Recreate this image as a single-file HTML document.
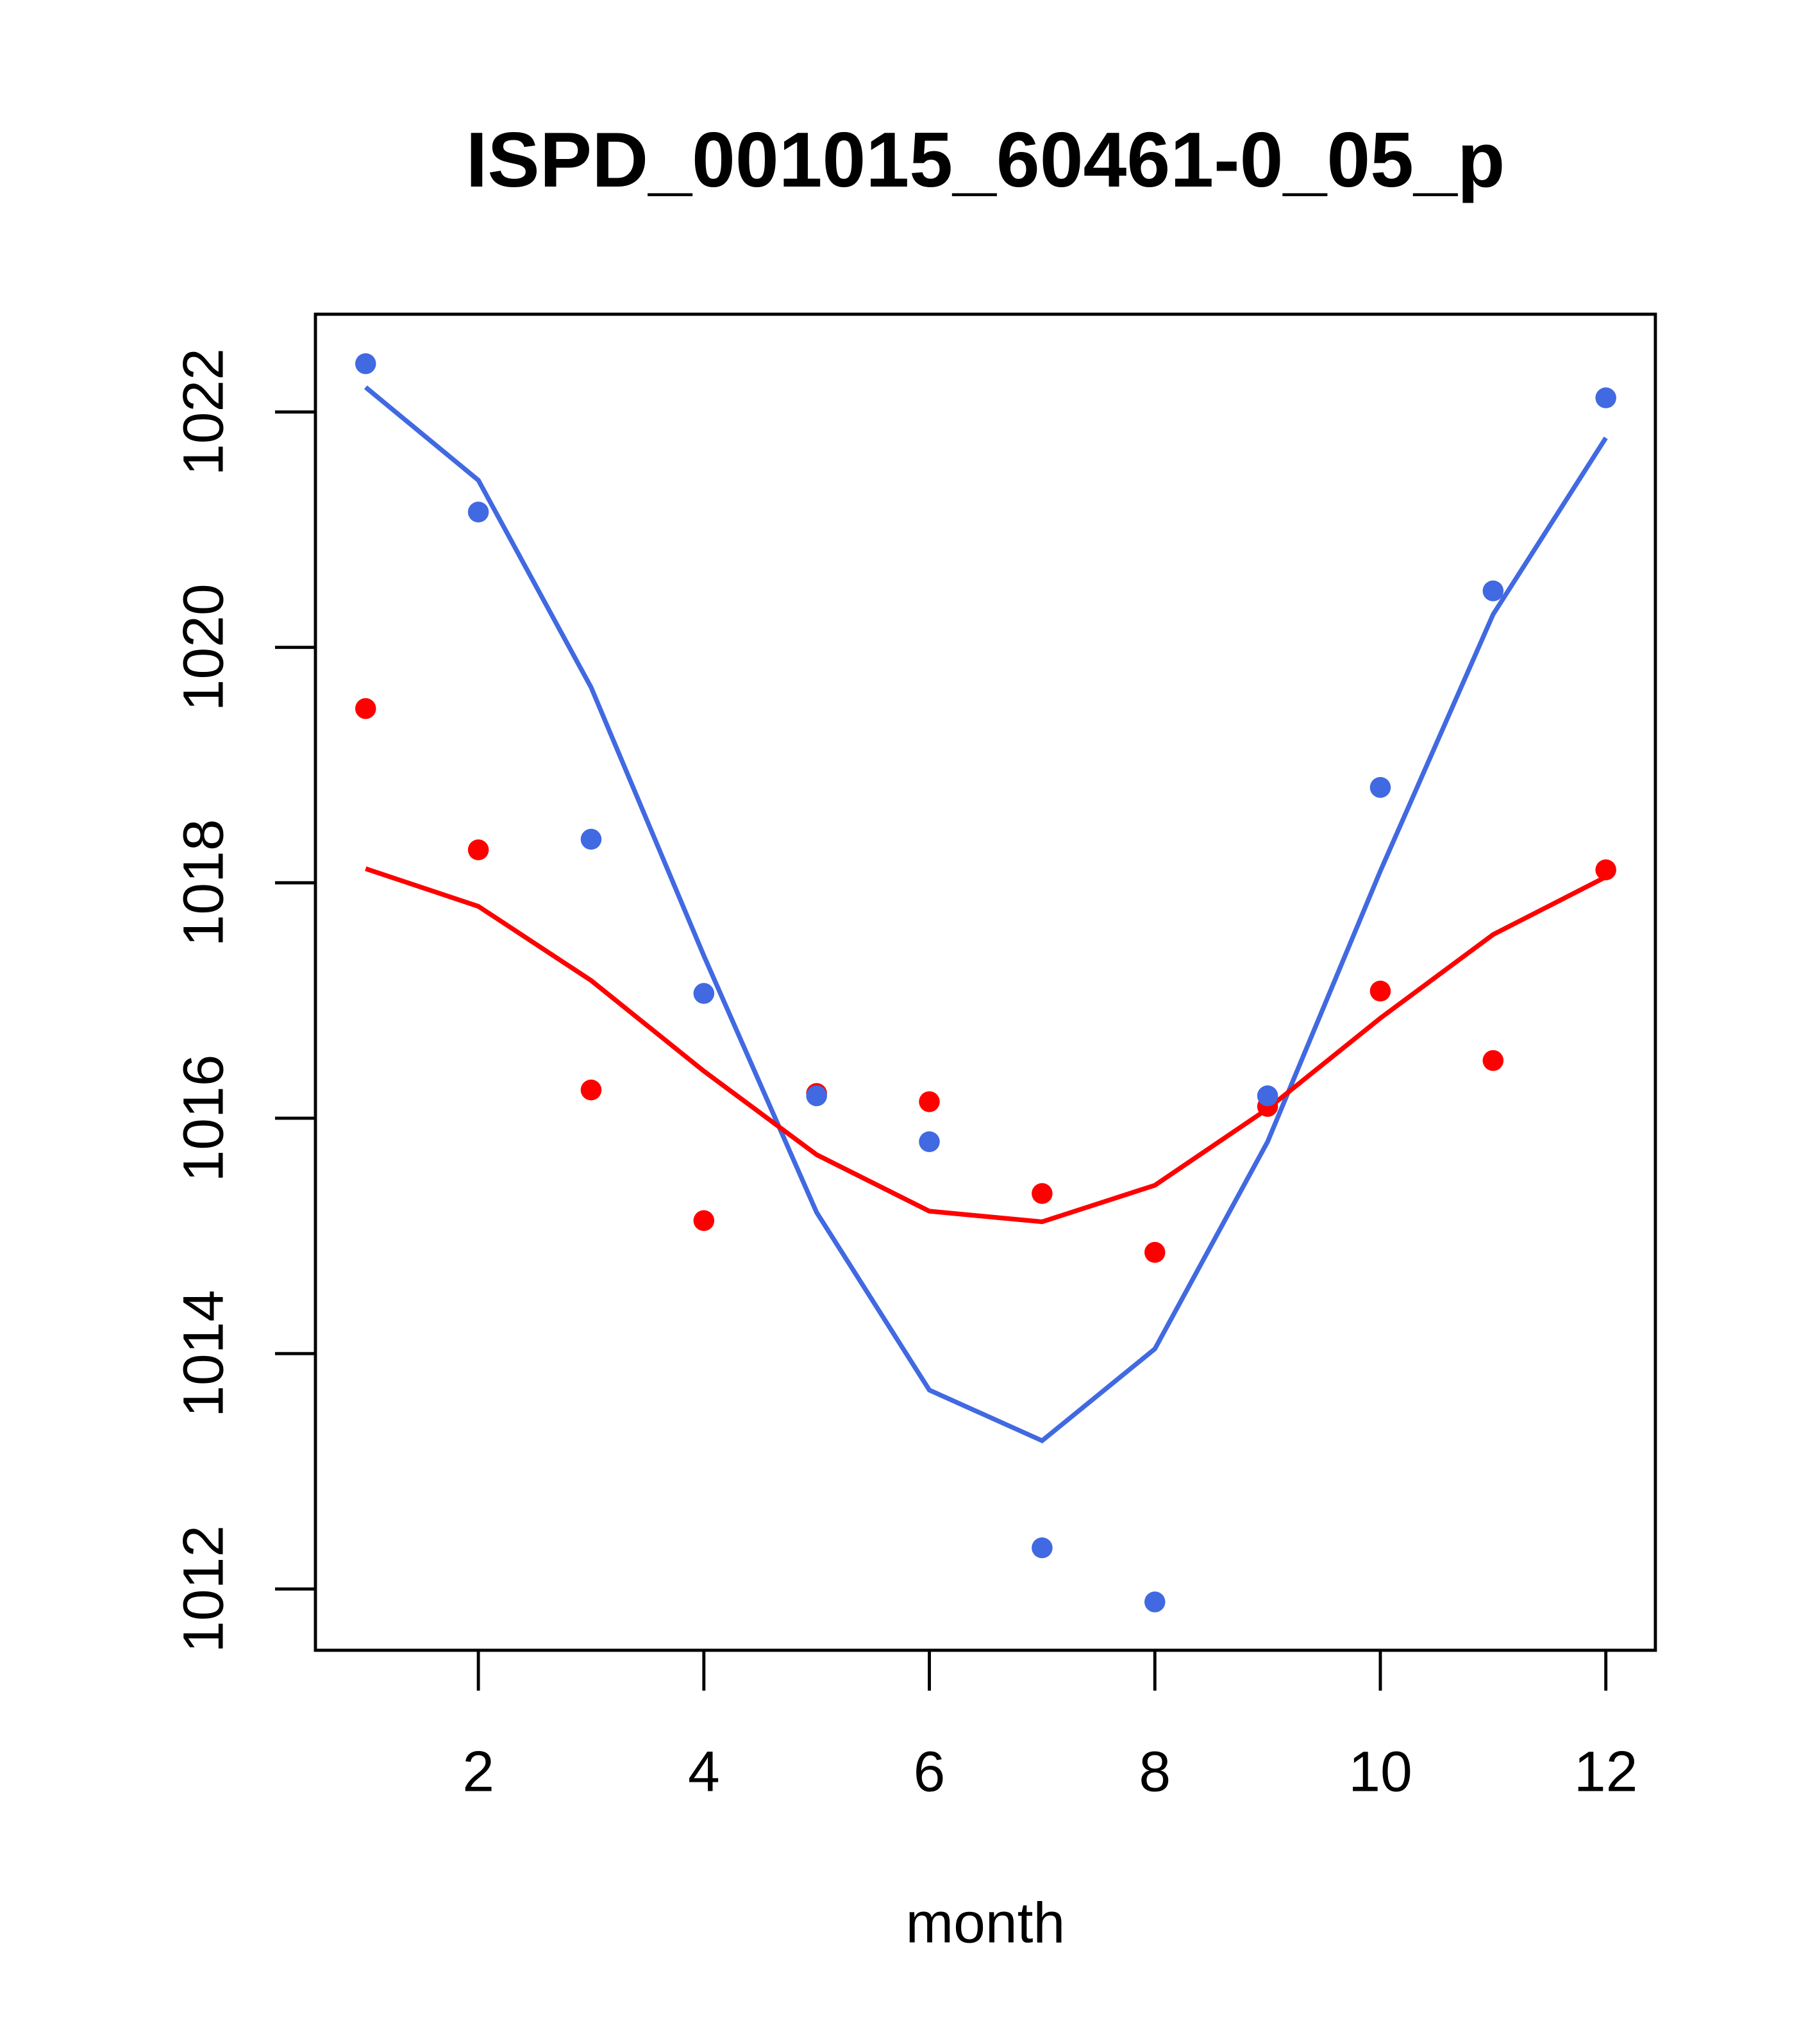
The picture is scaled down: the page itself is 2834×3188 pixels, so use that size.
<!DOCTYPE html>
<html><head><meta charset="utf-8"><style>html,body{margin:0;padding:0;background:#fff}svg{display:block}</style></head>
<body>
<svg width="2834" height="3188" viewBox="0 0 1394 1568" xmlns="http://www.w3.org/2000/svg" font-family="Liberation Sans, sans-serif">
<rect width="1394" height="1568" fill="#fff"/>
<text x="756" y="143" font-size="60" font-weight="bold" text-anchor="middle">ISPD_001015_60461-0_05_p</text>
<rect x="242" y="241" width="1028" height="1025" fill="none" stroke="#000" stroke-width="2.4"/>
<text x="756" y="1490" font-size="44" text-anchor="middle">month</text>
<g id="axes"></g>
<g id="marks"></g>
</svg>
<script>
const months=[1,2,3,4,5,6,7,8,9,10,11,12];
const bluePts=[1022.41,1021.15,1018.37,1017.06,1016.19,1015.80,1012.35,1011.89,1016.19,1018.81,1020.48,1022.12];
const blueLine=[1022.21,1021.42,1019.66,1017.38,1015.20,1013.69,1013.26,1014.04,1015.80,1018.10,1020.28,1021.78];
const redPts=[1019.48,1018.28,1016.24,1015.13,1016.21,1016.14,1015.36,1014.86,1016.10,1017.08,1016.49,1018.11];
const redLine=[1018.12,1017.80,1017.17,1016.40,1015.69,1015.21,1015.12,1015.43,1016.08,1016.85,1017.56,1018.05];
const xTicks=[2,4,6,8,10,12];
const yTicks=[1012,1014,1016,1018,1020,1022];
const NS='http://www.w3.org/2000/svg';
function xs(m){return 367+(m-2)*86.5;}
function ys(v){return 1219-(v-1012)*90.3;}
const axes=document.getElementById('axes'),marks=document.getElementById('marks');
function mk(tag,attrs,parent){const e=document.createElementNS(NS,tag);for(const k in attrs)e.setAttribute(k,attrs[k]);parent.appendChild(e);return e;}
xTicks.forEach(t=>{
  const l=mk('line',{x1:xs(t),x2:xs(t),y1:1266,y2:1297,stroke:'#000','stroke-width':2.4},axes);
  
  
  const tx=mk('text',{x:xs(t),y:1374,'font-size':44,'text-anchor':'middle'},axes);tx.textContent=t;
  
  
});
yTicks.forEach(t=>{
  const l=mk('line',{x1:242,x2:211,y1:ys(t),y2:ys(t),stroke:'#000','stroke-width':2.4},axes);
  
  
  const tx=mk('text',{x:0,y:0,'font-size':44,'text-anchor':'middle',transform:`translate(171,${ys(t)}) rotate(-90)`},axes);tx.textContent=t;
  
  
});
function line(vals,color,name){
  const p=mk('polyline',{points:vals.map((v,i)=>xs(months[i])+','+ys(v)).join(' '),fill:'none',stroke:color,'stroke-width':3.6},marks);
  
  
}
function pts(vals,color,name){
  vals.forEach((v,i)=>{
    const c=mk('circle',{cx:xs(months[i]),cy:ys(v),r:8,fill:color},marks);
    
    
  });
}
line(blueLine,'#4169e1','blue-line');
line(redLine,'#ff0000','red-line');
pts(redPts,'#ff0000','red-point');
pts(bluePts,'#4169e1','blue-point');
</script>
</body></html>
